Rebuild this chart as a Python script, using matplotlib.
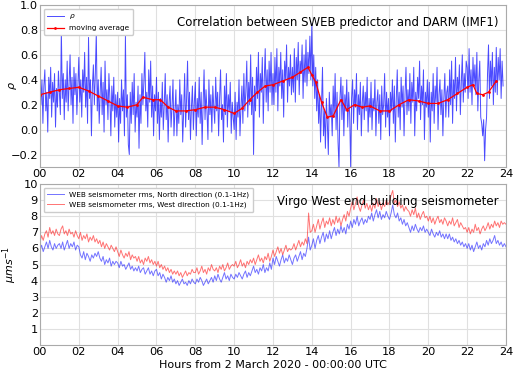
import numpy as np
import matplotlib
matplotlib.use('Agg')
import matplotlib.pyplot as plt
from matplotlib.ticker import FuncFormatter

# correlation rho, one value every 3 minutes, 00:00 -> 23:51
rho = [
    0.55, 0.20, 0.40, 0.05, 0.35, 0.48, 0.15, 0.30, -0.02, 0.42, 0.25, 0.50, 0.10, 0.38, 0.22, 0.45, 0.02, 0.33, 0.18, 0.47,
    0.30, 0.12, 0.80, 0.25, 0.45, 0.08, 0.40, 0.22, 0.55, 0.15, 0.38, 0.60, 0.20, 0.42, 0.05, 0.50, 0.28, 0.45, 0.12, 0.35,
    0.58, 0.22, 0.40, 0.10, 0.48, 0.30, 0.62, 0.18, 0.42, 0.05, 0.74, 0.25, 0.40, -0.05, 0.35, 0.52, 0.20, 0.45, 0.78, 0.15,
    0.40, 0.05, 0.30, 0.50, 0.12, 0.38, -0.02, 0.55, 0.20, 0.32, 0.08, 0.45, 0.25, -0.05, 0.35, 0.15, 0.42, 0.02, 0.28, 0.10,
    0.30, -0.10, 0.25, 0.05, 0.40, 0.15, 0.32, -0.05, 0.75, 0.10, 0.28, -0.12, -0.20, 0.30, 0.05, 0.38, 0.12, 0.45, -0.02, 0.22,
    0.10, 0.35, -0.15, 0.28, 0.05, 0.45, 0.20, 0.38, 0.62, 0.15, 0.30, 0.02, 0.48, 0.22, 0.55, 0.10, 0.35, -0.05, 0.28, 0.15,
    0.42, 0.05, 0.30, -0.08, 0.25, 0.10, 0.38, 0.00, 0.20, 0.45, 0.08, 0.28, -0.10, 0.22, 0.35, 0.02, 0.18, 0.40, -0.05, 0.15,
    0.32, -0.05, 0.20, 0.05, 0.40, 0.12, 0.28, -0.10, 0.15, 0.45, 0.02, 0.25, 0.55, 0.08, 0.30, -0.08, 0.18, 0.35, 0.00, 0.22,
    0.38, -0.05, 0.25, 0.10, 0.42, 0.05, 0.30, -0.12, 0.20, 0.48, 0.08, 0.32, 0.15, -0.08, 0.40, 0.12, 0.28, -0.02, 0.35, 0.18,
    0.05, 0.42, 0.15, 0.30, -0.05, 0.25, 0.48, 0.08, 0.20, -0.10, 0.35, 0.12, 0.45, 0.02, 0.28, 0.15, 0.38, -0.03, 0.22, 0.10,
    0.00, 0.30, -0.08, 0.22, 0.10, 0.40, -0.05, 0.18, 0.35, 0.05, 0.45, 0.15, 0.30, 0.55, 0.10, 0.38, 0.20, 0.60, 0.12, 0.42,
    -0.20, 0.35, 0.15, 0.50, 0.25, 0.62, 0.10, 0.45, 0.30, 0.58, 0.05, 0.40, 0.65, 0.22, 0.48, 0.15, 0.55, 0.30, 0.62, 0.20,
    0.45, 0.20, 0.58, 0.30, 0.65, 0.15, 0.50, 0.35, 0.62, 0.25, 0.48, 0.10, 0.55, 0.40, 0.68, 0.22, 0.50, 0.35, 0.60, 0.28,
    0.50, 0.30, 0.65, 0.22, 0.58, 0.40, 0.70, 0.28, 0.55, 0.45, 0.68, 0.25, 0.60, 0.38, 0.72, 0.35, 0.62, 0.45, 0.75, 0.40,
    0.85, 0.35, 0.60, 0.25, 0.50, 0.15, 0.40, 0.05, 0.28, -0.10, 0.20, 0.50, -0.05, 0.15, -0.15, 0.25, 0.05, -0.20, 0.30, 0.10,
    0.20, -0.05, 0.35, 0.10, 0.45, 0.00, 0.30, -0.10, -0.30, 0.25, 0.42, 0.08, 0.35, -0.05, 0.28, 0.15, 0.40, 0.02, 0.30, 0.12,
    -0.30, 0.25, 0.40, 0.05, 0.32, 0.18, 0.45, 0.00, 0.28, 0.12, 0.38, -0.05, 0.22, 0.35, 0.08, 0.30, 0.15, 0.42, -0.02, 0.25,
    0.10, 0.38, 0.00, 0.25, 0.15, 0.40, -0.05, 0.22, 0.32, 0.05, 0.28, -0.08, 0.35, 0.12, 0.20, 0.45, 0.02, 0.30, 0.10, 0.25,
    -0.05, 0.30, 0.15, 0.40, 0.05, 0.35, -0.10, 0.25, 0.48, 0.10, 0.30, 0.00, 0.42, 0.18, 0.35, -0.05, 0.28, 0.50, 0.12, 0.32,
    0.15, 0.45, 0.05, 0.38, 0.22, 0.50, -0.05, 0.30, 0.15, 0.42, 0.25, 0.55, 0.08, 0.35, 0.20, 0.48, -0.08, 0.30, 0.18, 0.40,
    0.10, 0.38, -0.10, 0.30, 0.15, 0.45, 0.05, 0.35, 0.22, 0.50, 0.00, 0.28, 0.40, 0.12, 0.32, -0.05, 0.25, 0.45, 0.10, 0.30,
    0.35, 0.10, 0.48, 0.20, 0.55, 0.05, 0.40, 0.25, 0.58, 0.15, 0.42, 0.30, 0.52, 0.12, 0.38, 0.60, 0.22, 0.45, 0.30, 0.55,
    0.50, 0.25, 0.65, 0.30, 0.48, 0.20, 0.58, 0.35, 0.52, 0.28, 0.62, 0.15, 0.40, 0.55, 0.10, 0.05, -0.05, 0.08, -0.25, 0.00,
    0.10, 0.45, 0.68, 0.25, 0.55, 0.35, 0.62, 0.20, 0.50, 0.30, 0.66, 0.28, 0.58, 0.40, 0.65, 0.25, 0.55, 0.35,
]
rho_hours = np.arange(len(rho)) / 20.0

ma_hours = [0, 0.5, 1, 1.5, 2, 2.5, 3, 3.5, 4, 4.5, 5, 5.3, 5.8, 6.2, 6.6, 7,
            7.5, 8, 8.5, 9, 9.5, 10, 10.4, 10.8, 11.2, 11.6, 12, 12.5, 13,
            13.4, 13.8, 14, 14.2, 14.5, 14.8, 15.1, 15.5, 15.8, 16.2, 16.6,
            17, 17.5, 18, 18.5, 19, 19.5, 20, 20.5, 21, 21.5, 22, 22.3, 22.5,
            22.8, 23.1, 23.5]
ma_vals = [0.28, 0.30, 0.32, 0.33, 0.34, 0.31, 0.27, 0.23, 0.19, 0.18, 0.20,
           0.26, 0.24, 0.24, 0.18, 0.15, 0.15, 0.16, 0.18, 0.18, 0.16, 0.13,
           0.17, 0.24, 0.30, 0.35, 0.36, 0.39, 0.42, 0.46, 0.50, 0.44, 0.38,
           0.22, 0.10, 0.11, 0.24, 0.16, 0.20, 0.18, 0.19, 0.15, 0.15, 0.20,
           0.24, 0.23, 0.21, 0.21, 0.24, 0.29, 0.34, 0.36, 0.29, 0.28, 0.30,
           0.39]

# seismometer rms, one value every 5 minutes, 00:00 -> 24:00
north = [
    5.9, 6.2, 5.8, 6.1, 6.4, 6.0, 6.5, 6.1, 5.9, 6.3, 6.0, 6.2,
    6.3, 6.0, 6.4, 5.9, 6.2, 6.5, 6.0, 6.3, 6.1, 6.4, 5.9, 6.2,
    6.1, 5.6, 5.4, 5.8, 5.3, 5.7, 5.5, 5.2, 5.6, 5.4, 5.7, 5.5,
    5.8, 5.4, 5.2, 5.5, 5.0, 5.3, 5.1, 5.4, 4.9, 5.2, 5.0, 5.2,
    5.1, 4.8, 5.2, 4.9, 5.0, 4.7, 4.9, 5.1, 4.7, 4.9, 4.6, 4.8,
    4.6, 4.9, 4.5, 4.7, 4.8, 4.4, 4.6, 4.8, 4.4, 4.6, 4.3, 4.6,
    4.7, 4.3, 4.5, 4.1, 4.4, 4.2, 3.9, 4.2, 4.0, 4.3, 3.9, 4.1,
    3.8, 4.0, 3.7, 3.9, 4.1, 3.8, 3.9, 3.7, 4.0, 3.8, 4.1, 3.9,
    3.8, 4.1, 3.9, 4.2, 4.0, 3.7, 3.9, 4.1, 3.8, 4.0, 4.2, 3.9,
    4.3, 4.0, 4.4, 4.1, 3.9, 4.2, 4.5, 4.1, 4.3, 4.0, 4.4, 4.2,
    4.1, 4.4, 4.2, 4.5, 4.3, 4.1, 4.4, 4.6, 4.2, 4.5, 4.3, 4.6,
    4.9, 4.5, 4.7, 4.4, 4.8, 4.6, 5.0, 4.5, 4.8, 4.6, 5.1, 4.7,
    5.4, 5.0, 5.5, 5.2, 4.9, 5.3, 5.6, 5.1, 5.4, 5.2, 5.6, 5.3,
    5.0, 5.4, 5.6, 5.2, 5.5, 5.8, 5.3, 5.7, 5.5, 6.0, 6.7, 5.9,
    6.2, 6.6, 6.0, 6.5, 6.8, 6.3, 6.7, 7.0, 6.4, 6.9, 6.6, 7.1,
    6.6, 7.0, 7.3, 6.8, 7.2, 6.9, 7.4, 7.0, 7.3, 6.9, 7.5, 7.2,
    7.7, 7.3, 7.8, 7.5, 8.0, 7.4, 7.7, 7.9, 7.5, 7.8, 7.6, 8.0,
    7.8, 8.2, 7.7, 8.1, 8.4, 7.9, 8.3, 7.8, 8.1, 7.9, 8.3, 8.0,
    7.8, 8.2, 8.7, 8.1, 7.9, 8.2, 7.7, 7.9, 7.5, 7.8, 7.4, 7.6,
    7.3, 7.0, 7.4, 7.1, 7.5, 7.2, 7.0, 7.3, 7.1, 7.4, 7.0, 7.2,
    7.0, 6.8, 7.2, 6.9, 6.7, 7.0, 6.8, 7.1, 6.7, 6.9, 6.6, 6.9,
    6.6, 6.9, 6.5, 6.7, 6.4, 6.6, 6.3, 6.5, 6.2, 6.4, 6.1, 6.3,
    6.0, 6.3, 5.9, 6.2, 5.8, 6.1, 6.4, 6.0, 6.2, 5.9, 6.3, 6.1,
    6.5, 6.2, 6.6, 6.3, 6.5, 6.8, 6.3, 6.5, 6.2, 6.4, 6.1, 6.3,
    6.1,
]
west = [
    6.4, 6.8, 6.5, 6.9, 7.1, 6.7, 7.3, 6.9, 7.1, 6.8, 7.2, 6.9,
    6.8, 7.2, 7.4, 6.9, 7.1, 6.8, 7.2, 6.9, 7.0, 6.7, 7.1, 6.8,
    6.6, 7.0, 6.5, 6.8, 6.6, 6.9, 6.4, 6.7, 6.5, 6.8, 6.4, 6.6,
    6.3, 6.5, 6.1, 6.4, 6.0, 6.3, 6.1, 5.9, 6.2, 6.0, 5.8, 6.1,
    5.8, 5.5, 5.9, 5.6, 5.4, 5.7, 5.5, 5.8, 5.3, 5.6, 5.4, 5.5,
    5.2, 5.5, 5.1, 5.3, 5.0, 5.4, 5.2, 5.5, 5.1, 5.3, 5.0, 5.2,
    4.9, 5.2, 4.8, 5.0, 4.7, 4.9, 4.6, 4.8, 4.5, 4.7, 4.4, 4.6,
    4.4, 4.6, 4.3, 4.5, 4.2, 4.4, 4.6, 4.3, 4.5, 4.4, 4.7, 4.5,
    4.5, 4.8, 4.4, 4.6, 4.9, 4.5, 4.7, 4.4, 4.8, 4.6, 5.0, 4.7,
    4.6, 4.8, 4.5, 4.9, 4.7, 5.0, 4.6, 4.8, 5.1, 4.7, 4.9, 5.0,
    4.9, 5.2, 4.8, 5.0, 5.3, 4.9, 5.1, 4.8, 5.2, 5.0, 5.3, 5.1,
    5.4, 5.0, 5.3, 5.6, 5.2, 5.4, 5.1, 5.5, 5.3, 5.7, 5.2, 5.5,
    5.9, 5.5, 5.8, 6.1, 5.7, 6.0, 5.6, 5.9, 6.2, 5.8, 6.0, 5.9,
    6.0, 6.3, 5.9, 6.2, 6.5, 6.1, 6.4, 6.2, 6.6, 6.3, 8.2, 7.0,
    7.1, 7.5, 7.0, 7.4, 7.8, 7.2, 7.6, 7.9, 7.3, 7.7, 7.5, 7.9,
    7.4, 7.8, 7.5, 8.0, 7.6, 7.9, 7.4, 7.8, 8.1, 7.7, 8.3, 8.0,
    8.5, 8.9, 8.4, 8.8, 9.2, 8.6, 8.3, 8.7, 9.0, 8.5, 8.8, 8.4,
    8.7, 8.3, 8.8, 8.5, 9.1, 8.6, 8.9, 8.4, 8.8, 8.6, 9.0, 8.7,
    8.9, 9.3, 9.6, 8.8, 9.0, 8.6, 8.9, 8.5, 8.7, 8.3, 8.6, 8.4,
    8.3, 8.0, 8.4, 8.1, 8.5, 7.9, 8.2, 7.8, 8.1, 8.3, 7.9, 8.0,
    7.7, 8.0, 7.6, 7.9, 7.5, 7.8, 8.0, 7.6, 7.8, 7.5, 7.9, 7.7,
    7.4, 7.7, 7.5, 7.9, 7.4, 7.6, 7.8, 7.3, 7.6, 7.4, 7.2, 7.3,
    7.0, 7.3, 6.9, 7.2, 7.0, 7.5, 7.1, 7.3, 6.9, 7.2, 7.4, 7.1,
    7.3, 7.6, 7.2, 7.5, 7.3, 7.7, 7.4, 7.6, 7.3, 7.7, 7.5, 7.6,
    7.5,
]
seis_hours = np.arange(len(north)) / 12.0

hour_ticks = np.arange(0, 25, 2)

plt.rcParams['font.family'] = 'DejaVu Sans'
fig = plt.figure(figsize=(5.14, 3.71), dpi=100)
ax1 = fig.add_axes([0.0778, 0.5499, 0.9066, 0.4366])
ax2 = fig.add_axes([0.0778, 0.0700, 0.9066, 0.4340])

for ax in (ax1, ax2):
    ax.set_xlim(0, 24)
    ax.set_xticks(hour_ticks)
    ax.xaxis.set_major_formatter(FuncFormatter(lambda v, p: '%02d' % v))
    ax.grid(True, color='#e0e0e0', linewidth=0.8)
    ax.set_axisbelow(True)
    ax.tick_params(length=0, labelsize=8.2, pad=1.5)
    for s in ax.spines.values():
        s.set_color('#aaaaaa')
        s.set_linewidth(0.8)

ax1.plot(rho_hours, rho, color='blue', alpha=0.7, lw=0.7, label=r'$\rho$')
ax1.plot(ma_hours, ma_vals, '.-', color='red', lw=0.9, ms=2, label='moving average')
ax1.set_ylim(-0.3, 1.0)
ax1.set_yticks([-0.2, 0.0, 0.2, 0.4, 0.6, 0.8, 1.0])
ax1.set_ylabel(r'$\rho$', fontsize=8)
ax1.yaxis.set_label_coords(-0.045, 0.5)
ax1.text(0.985, 0.93, 'Correlation between SWEB predictor and DARM (IMF1)',
         transform=ax1.transAxes, ha='right', va='top', fontsize=8.5)
ax1.legend(loc='upper left', fontsize=5.3, framealpha=1, edgecolor='#cccccc',
           borderpad=0.5, labelspacing=0.5, handlelength=2.2)

ax2.plot(seis_hours, north, color='blue', alpha=0.55, lw=0.7,
         label='WEB seismometer rms, North direction (0.1-1Hz)')
ax2.plot(seis_hours, west, color='red', alpha=0.55, lw=0.7,
         label='WEB seismometer rms, West direction (0.1-1Hz)')
ax2.set_ylim(0, 10)
ax2.set_yticks(range(1, 11))
ax2.set_ylabel(r'$\mu m s^{-1}$', fontsize=8)
ax2.yaxis.set_label_coords(-0.045, 0.5)
ax2.set_xlabel('Hours from 2 March 2020 - 00:00:00 UTC', fontsize=8)
ax2.xaxis.set_label_coords(0.5, -0.092)
ax2.text(0.985, 0.93, 'Virgo West end building seismometer',
         transform=ax2.transAxes, ha='right', va='top', fontsize=8.5)
ax2.legend(loc='upper left', fontsize=5.3, framealpha=1, edgecolor='#cccccc',
           borderpad=0.5, labelspacing=0.5, handlelength=2.2)

fig.savefig('out.png', dpi=100)
